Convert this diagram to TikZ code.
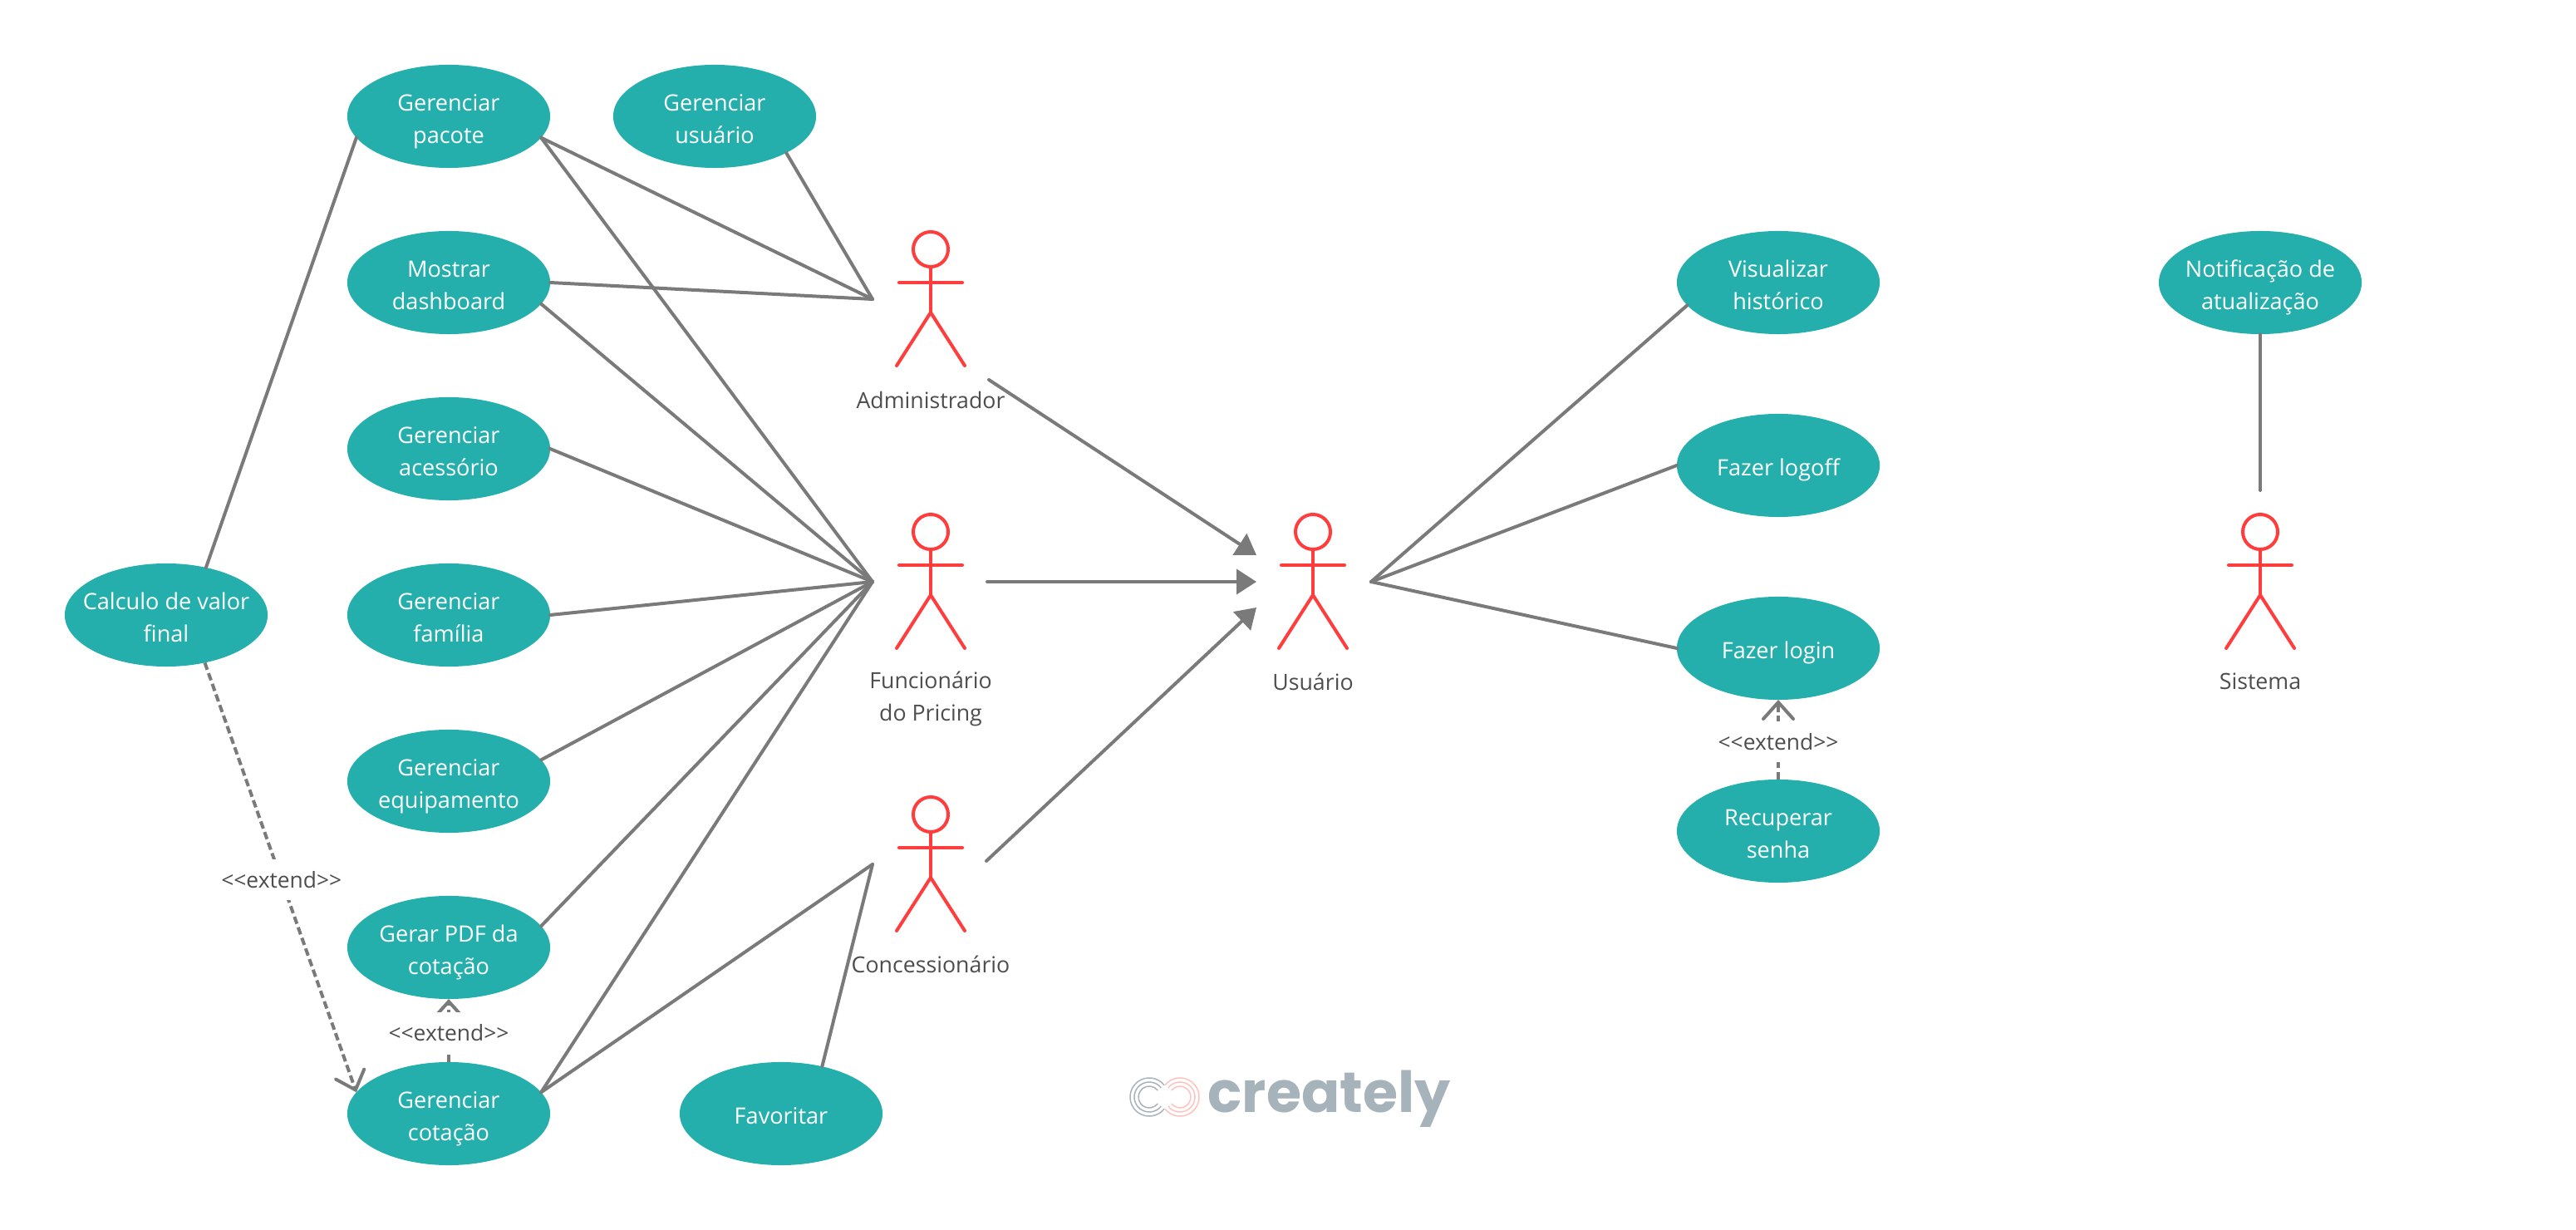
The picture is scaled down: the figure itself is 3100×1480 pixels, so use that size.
\documentclass[tikz,border=0pt]{standalone}
\usepackage{fontspec}
\setmainfont{Open Sans}
\newfontfamily\logofont{Poppins}
\usetikzlibrary{arrows.meta,shapes.geometric}
\definecolor{teal1}{HTML}{24AFAC}
\definecolor{line1}{HTML}{7A7A7A}
\definecolor{red1}{HTML}{FF3D3D}
\definecolor{text1}{HTML}{4D4D4D}
\definecolor{logo1}{HTML}{A7B3BA}
\definecolor{logo2}{HTML}{FFC2BE}
\tikzset{
  usecase/.style={ellipse,fill=teal1,text=white,inner ysep=0pt,inner xsep=-.3cm,outer sep=0pt,
    minimum width=2.44cm,minimum height=1.24cm,align=center,
    text height=.65cm,text depth=0pt,
    font=\fontsize{7.7}{11}\selectfont},
  usecaseone/.style={usecase,text height=.25cm},
  actorlabel/.style={text=text1,align=center,inner sep=0pt,
    font=\fontsize{7.6}{11.1}\selectfont},
  extendlabel/.style={fill=white,text=text1,inner sep=0pt,minimum height=.49cm,
    minimum width=1.46cm,font=\fontsize{7.5}{10}\selectfont},
  link/.style={draw=line1,line width=.04cm,line cap=round},
  arrowlink/.style={link,-{Triangle[length=.24cm,width=.3cm]}},
  extendlink/.style={draw=line1,line width=.04cm,dash pattern=on .09cm off .045cm,
    -{Straight Barb[length=.2cm,width=.36cm,line cap=round]}},
  actorline/.style={draw=red1,line width=.04cm,line cap=round}
}
\begin{document}
\begin{tikzpicture}
  [x=.01cm,y=-.01cm]
  \useasboundingbox (0,0) rectangle (3100,1480);

  \node[usecase] (pacote) at (540,140) {Gerenciar\\pacote};
  \node[usecase] (usuario) at (860,140) {Gerenciar\\usuário};
  \node[usecase] (dashboard) at (540,340) {Mostrar\\dashboard};
  \node[usecase] (acessorio) at (540,540) {Gerenciar\\acessório};
  \node[usecase] (familia) at (540,740) {Gerenciar\\família};
  \node[usecase] (equipamento) at (540,940) {Gerenciar\\equipamento};
  \node[usecase] (pdf) at (540,1140) {Gerar PDF da\\cotação};
  \node[usecase] (cotacao) at (540,1340) {Gerenciar\\cotação};
  \node[usecaseone] (favoritar) at (940,1340) {Favoritar};
  \node[usecase] (calculo) at (200,740) {Calculo de valor\\final};
  \node[usecase] (historico) at (2140,340) {Visualizar\\histórico};
  \node[usecaseone] (logoff) at (2140,560) {Fazer logoff};
  \node[usecaseone] (login) at (2140,780) {Fazer login};
  \node[usecase] (senha) at (2140,1000) {Recuperar\\senha};
  \node[usecase] (notificacao) at (2720,340) {Notificação de\\atualização};

  % actors
  \foreach \px/\py in {1120/0,1120/340,1120/680,1580/340,2720/340}
  {
    \draw[actorline] (\px,279+\py) ++(0,21) circle (.21cm);
    \draw[actorline] (\px,321+\py) -- (\px,376+\py);
    \draw[actorline] (\px-38,340+\py) -- (\px+38,340+\py);
    \draw[actorline] (\px-41,440+\py) -- (\px,376+\py) -- (\px+41,440+\py);
  }
  \node[actorlabel] (admin) at (1120,481) {Administrador};
  \node[actorlabel] (func) at (1120,841) {Funcionário\\do Pricing};
  \node[actorlabel] (conc) at (1120,1160) {Concessionário};
  \node[actorlabel] (user) at (1580,820) {Usuário};
  \node[actorlabel] (sistema) at (2720,820) {Sistema};

  \coordinate (adminL) at (1050,360);
  \coordinate (funcL) at (1050,700);
  \coordinate (concL) at (1050,1040);
  \coordinate (userR) at (1650,700);
  \coordinate (adminR) at (1190,457);
  \coordinate (funcR) at (1188,700);
  \coordinate (concR) at (1187,1036);
  \coordinate (userA) at (1512,668);
  \coordinate (userB) at (1512,700);
  \coordinate (userC) at (1512,731);
  \coordinate (sistemaT) at (2720,590);

  \foreach \from/\to in {pacote.-13/adminL,usuario.-27/adminL,dashboard.0/adminL,
    pacote.-13/funcL,dashboard.-13/funcL,acessorio.0/funcL,familia.0/funcL,
    equipamento.13/funcL,pdf.13/funcL,cotacao.13/funcL,cotacao.13/concL,
    favoritar.49/concL,calculo.50/pacote.193,historico.194/userR,logoff.180/userR,
    login.180/userR,notificacao.-90/sistemaT}
    \draw[link] (\from) -- (\to);

  \foreach \from/\to in {adminR/userA,funcR/userB,concR/userC}
    \draw[arrowlink] (\from) -- (\to);

  \draw[extendlink] (calculo.-51) -- node[extendlabel,pos=.506] (ext1) {<{}<extend>{}>} (cotacao.167);
  \draw[extendlink] (cotacao.north) -- node[extendlabel,pos=.47] (ext2) {<{}<extend>{}>} (pdf.south);
  \draw[extendlink] (senha.north) -- node[extendlabel,pos=.47] (ext3) {<{}<extend>{}>} (login.south);

  % logo
  \foreach \r in {.23,.18,.13}
  {
    \draw[logo1,line width=.015cm] (1383,1320) ++(38:\r cm) arc[start angle=38,end angle=322,radius=\r cm];
    \draw[logo2,line width=.015cm] (1420,1320) ++(142:\r cm) arc[start angle=142,end angle=-142,radius=\r cm];
  }
  \node[anchor=base west,inner sep=0pt,text=logo1,font=\logofont\bfseries\fontsize{19.4}{20}\selectfont] (logo) at (1453,1338) {creately};
\end{tikzpicture}
\end{document}
